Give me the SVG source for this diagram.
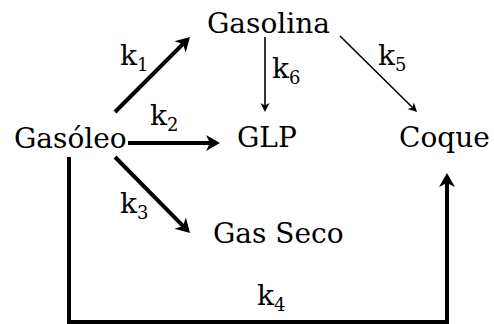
<svg xmlns="http://www.w3.org/2000/svg" width="494" height="324" viewBox="0 0 494 324">
<style>
text{font-family:"DejaVu Serif","Liberation Serif",serif;font-size:28px;fill:#000}
.sub{font-size:18px}
.thick{stroke:#000;stroke-width:4;fill:none}
.thin{stroke:#000;stroke-width:1.6;fill:none}
</style>
<defs>
<marker id="hb" markerUnits="userSpaceOnUse" orient="auto" refX="6" refY="0" markerWidth="16" markerHeight="18" viewBox="0 -9 16 18" overflow="visible">
<path d="M0,-8 L14,0 L0,8 L4,0 Z" fill="#000"/>
</marker>
<marker id="hs" markerUnits="userSpaceOnUse" orient="auto" refX="4" refY="0" markerWidth="10" markerHeight="10" viewBox="0 -5 10 10" overflow="visible">
<path d="M0,-4.5 L9,0 L0,4.5 L2.5,0 Z" fill="#000"/>
</marker>
</defs>
<rect width="494" height="324" fill="#fff"/>
<g id="connectors">
<path class="thick" d="M115,112 L184.3,42.7" marker-end="url(#hb)"/>
<path class="thick" d="M128,143 L212,143" marker-end="url(#hb)"/>
<path class="thick" d="M115,157 L184.4,227.3" marker-end="url(#hb)"/>
<path class="thick" d="M69,157 L69,322 L447,322 L447,181" marker-end="url(#hb)"/>
<path class="thin" d="M265,37 L265,107" marker-end="url(#hs)"/>
<path class="thin" d="M340,36 L413.5,108.5" marker-end="url(#hs)"/>
<text x="120" y="65">k<tspan class="sub" dy="6">1</tspan></text>
<text x="150" y="125">k<tspan class="sub" dy="6">2</tspan></text>
<text x="120" y="213">k<tspan class="sub" dy="6">3</tspan></text>
<text x="257" y="305">k<tspan class="sub" dy="6">4</tspan></text>
<text x="378" y="65">k<tspan class="sub" dy="6">5</tspan></text>
<text x="272" y="78">k<tspan class="sub" dy="6">6</tspan></text>
</g>
<g id="gasolina"><text x="207" y="33">Gasolina</text></g>
<g id="gasoleo"><text x="14" y="148">Gasóleo</text></g>
<g id="glp"><text x="237" y="147">GLP</text></g>
<g id="coque"><text x="399" y="147">Coque</text></g>
<g id="gasseco"><text x="213" y="243">Gas Seco</text></g>
</svg>
